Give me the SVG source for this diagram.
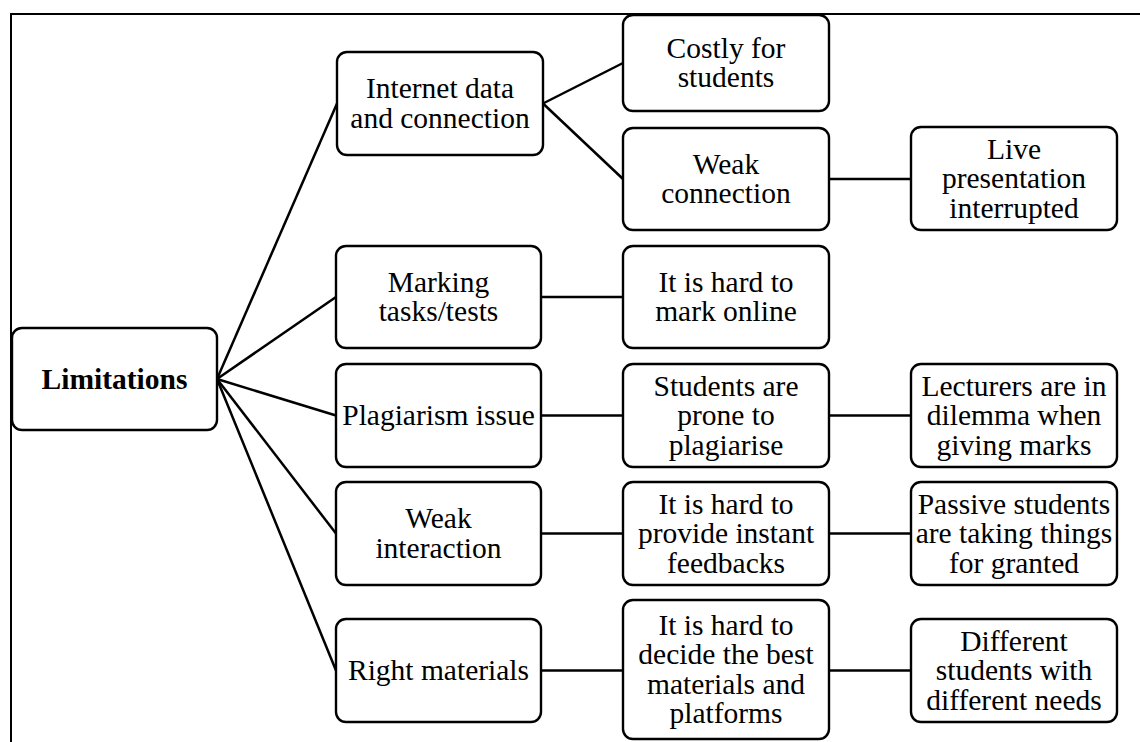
<svg xmlns="http://www.w3.org/2000/svg" width="1140" height="742" viewBox="0 0 1140 742">
<style>
.box{fill:#fff;stroke:#000;stroke-width:2.4}
.c{stroke:#000;stroke-width:2.5;fill:none}
.f{stroke:#000;stroke-width:2;fill:none}
</style>
<rect width="1140" height="742" fill="#fff"/>
<g id="frame"><path class="f" d="M11 742 V14 H1140"/></g>
<g id="connectors">
<line class="c" x1="217" y1="379" x2="337" y2="103.5"/>
<line class="c" x1="217" y1="379" x2="336" y2="297"/>
<line class="c" x1="217" y1="379" x2="336" y2="415.5"/>
<line class="c" x1="217" y1="379" x2="336" y2="533.5"/>
<line class="c" x1="217" y1="379" x2="336" y2="670.5"/>
<line class="c" x1="543" y1="103.5" x2="623" y2="63"/>
<line class="c" x1="543" y1="103.5" x2="623" y2="179"/>
<line class="c" x1="829" y1="179" x2="911" y2="179"/>
<line class="c" x1="541" y1="297" x2="623" y2="297"/>
<line class="c" x1="541" y1="415.5" x2="623" y2="415.5"/>
<line class="c" x1="829" y1="415.5" x2="911" y2="415.5"/>
<line class="c" x1="541" y1="533.5" x2="623" y2="533.5"/>
<line class="c" x1="829" y1="533.5" x2="911" y2="533.5"/>
<line class="c" x1="541" y1="670.5" x2="623" y2="670.5"/>
<line class="c" x1="829" y1="670.5" x2="911" y2="670.5"/>
</g>
<g font-family="Liberation Serif, Times New Roman, serif" font-size="29.5" text-anchor="middle" fill="#000">
<g id="limitations"><rect class="box" x="12" y="328" width="205" height="102" rx="10"/><text font-weight="bold" x="114.5" y="388.5">Limitations</text></g>
<g id="internet"><rect class="box" x="337" y="52" width="206" height="103" rx="10"/><text x="440" y="98.3">Internet data</text><text x="440" y="127.8">and connection</text></g>
<g id="costly"><rect class="box" x="623" y="15" width="206" height="96" rx="10"/><text x="726" y="57.8">Costly for</text><text x="726" y="87.3">students</text></g>
<g id="weakconn"><rect class="box" x="623" y="128" width="206" height="102" rx="10"/><text x="726" y="173.8">Weak</text><text x="726" y="203.3">connection</text></g>
<g id="live"><rect class="box" x="911" y="127" width="206" height="103" rx="10"/><text x="1014" y="158.5">Live</text><text x="1014" y="188">presentation</text><text x="1014" y="217.5">interrupted</text></g>
<g id="marking"><rect class="box" x="336" y="246" width="205" height="102" rx="10"/><text x="438.5" y="291.8">Marking</text><text x="438.5" y="321.3">tasks/tests</text></g>
<g id="hardmark"><rect class="box" x="623" y="246" width="206" height="102" rx="10"/><text x="726" y="291.8">It is hard to</text><text x="726" y="321.3">mark online</text></g>
<g id="plagiarism"><rect class="box" x="336" y="364" width="205" height="103" rx="10"/><text x="438.5" y="425">Plagiarism issue</text></g>
<g id="prone"><rect class="box" x="623" y="364" width="206" height="103" rx="10"/><text x="726" y="395.5">Students are</text><text x="726" y="425">prone to</text><text x="726" y="454.5">plagiarise</text></g>
<g id="lecturers"><rect class="box" x="911" y="364" width="206" height="103" rx="10"/><text x="1014" y="395.5">Lecturers are in</text><text x="1014" y="425">dilemma when</text><text x="1014" y="454.5">giving marks</text></g>
<g id="weakinter"><rect class="box" x="336" y="482" width="205" height="103" rx="10"/><text x="438.5" y="528.3">Weak</text><text x="438.5" y="557.8">interaction</text></g>
<g id="feedback"><rect class="box" x="623" y="482" width="206" height="103" rx="10"/><text x="726" y="513.5">It is hard to</text><text x="726" y="543">provide instant</text><text x="726" y="572.5">feedbacks</text></g>
<g id="passive"><rect class="box" x="911" y="482" width="206" height="103" rx="10"/><text x="1014" y="513.5">Passive students</text><text x="1014" y="543">are taking things</text><text x="1014" y="572.5">for granted</text></g>
<g id="rightmat"><rect class="box" x="336" y="619" width="205" height="103" rx="10"/><text x="438.5" y="680">Right materials</text></g>
<g id="decide"><rect class="box" x="623" y="600" width="206" height="139" rx="10"/><text x="726" y="634.8">It is hard to</text><text x="726" y="664.3">decide the best</text><text x="726" y="693.8">materials and</text><text x="726" y="723.3">platforms</text></g>
<g id="different"><rect class="box" x="911" y="619" width="206" height="103" rx="10"/><text x="1014" y="650.5">Different</text><text x="1014" y="680">students with</text><text x="1014" y="709.5">different needs</text></g>
</g>
</svg>
